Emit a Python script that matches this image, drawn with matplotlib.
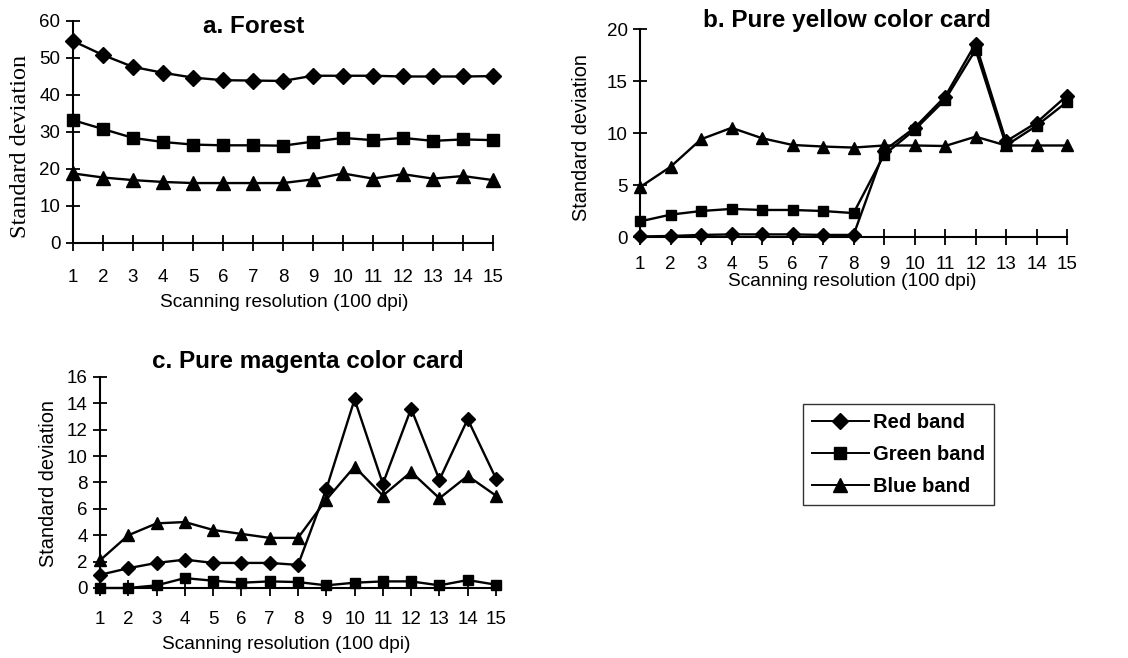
import matplotlib

matplotlib.use("Agg")
import matplotlib.pyplot as plt
from matplotlib.lines import Line2D

plt.rcParams["font.family"] = ["Liberation Sans", "DejaVu Sans"]

res = list(range(1, 16))

forest_red = [54.6, 50.8, 47.6, 46.0, 44.7, 44.0, 43.9, 43.8, 45.2, 45.2, 45.2, 45.0, 45.0, 45.0, 45.1]
forest_green = [33.2, 30.8, 28.4, 27.3, 26.6, 26.4, 26.4, 26.3, 27.4, 28.4, 27.8, 28.4, 27.6, 28.0, 27.8]
forest_blue = [18.8, 17.7, 17.0, 16.5, 16.2, 16.2, 16.2, 16.2, 17.2, 18.8, 17.4, 18.6, 17.4, 18.1, 17.0]

yellow_red = [0.05, 0.1, 0.2, 0.25, 0.25, 0.25, 0.2, 0.2, 8.3, 10.5, 13.5, 18.6, 9.2, 11.0, 13.6]
yellow_green = [1.5, 2.15, 2.5, 2.7, 2.6, 2.6, 2.5, 2.3, 7.9, 10.3, 13.2, 18.0, 8.8, 10.7, 13.0]
yellow_blue = [4.8, 6.75, 9.4, 10.5, 9.5, 8.85, 8.7, 8.6, 8.8, 8.8, 8.75, 9.65, 8.8, 8.8, 8.8]

magenta_red = [1.0, 1.5, 1.9, 2.15, 1.9, 1.9, 1.9, 1.75, 7.5, 14.3, 7.9, 13.6, 8.2, 12.8, 8.3]
magenta_green = [0.0, 0.0, 0.2, 0.75, 0.55, 0.4, 0.5, 0.45, 0.2, 0.4, 0.5, 0.5, 0.2, 0.6, 0.25]
magenta_blue = [2.1, 4.0, 4.9, 5.0, 4.4, 4.1, 3.8, 3.8, 6.7, 9.2, 7.0, 8.8, 6.8, 8.5, 7.0]

band_names = ["Red band", "Green band", "Blue band"]
band_markers = ["D", "s", "^"]


def draw_panel(ax, series, ymax, ystep, title, title_xy, ylab_xy, xlab_xy, xpad, msize, ylab_font):
    for values, marker in zip(series, band_markers):
        ms = msize + 1 if marker == "^" else msize
        ax.plot(res, values, color="black", lw=1.7, marker=marker, ms=ms,
                mfc="black", mec="black", clip_on=False, zorder=3)
    ax.set_xlim(1, 15)
    ax.set_ylim(0, ymax)
    ax.set_xticks(res)
    ax.set_yticks(range(0, ymax + 1, ystep))
    for side in ("top", "right"):
        ax.spines[side].set_visible(False)
    for side in ("left", "bottom"):
        ax.spines[side].set_linewidth(1.5)
    ax.tick_params(axis="x", direction="inout", length=11, width=1.3, pad=xpad - 1, labelsize=13.5)
    ax.tick_params(axis="y", direction="inout", length=10, width=1.3, pad=4, labelsize=13.5)
    ax.text(title_xy[0], title_xy[1], title, transform=ax.transAxes, ha="center", va="center",
            fontsize=17.5, fontweight="bold")
    ax.set_ylabel("Standard deviation", **ylab_font)
    ax.yaxis.set_label_coords(*ylab_xy)
    ax.set_xlabel("Scanning resolution (100 dpi)", fontsize=13.8)
    ax.xaxis.set_label_coords(*xlab_xy)
    ax.xaxis.label.set_va("center")
    ax.yaxis.label.set_va("center")


fig = plt.figure(figsize=(11.28, 6.58), dpi=100)
ax_a = fig.add_axes([0.0647, 0.6307, 0.3723, 0.3374])
ax_b = fig.add_axes([0.5674, 0.6398, 0.3786, 0.3161])
ax_c = fig.add_axes([0.0887, 0.1064, 0.3510, 0.3207])

draw_panel(ax_a, [forest_red, forest_green, forest_blue], 60, 10, "a. Forest",
           (0.43, 0.973), (-0.126, 0.435), (0.504, -0.27), 14, 8.5,
           {"family": ["Liberation Serif"], "fontsize": 17.5})
draw_panel(ax_b, [yellow_red, yellow_green, yellow_blue], 20, 5, "b. Pure yellow color card",
           (0.485, 1.043), (-0.136, 0.478), (0.497, -0.216), 9, 7.5,
           {"fontsize": 14.4})
draw_panel(ax_c, [magenta_red, magenta_green, magenta_blue], 16, 2, "c. Pure magenta color card",
           (0.526, 1.071), (-0.129, 0.495), (0.47, -0.27), 12, 7.5,
           {"fontsize": 14.4})

handles = [Line2D([], [], color="black", lw=1.4, marker=m, ms=(10 if m == "^" else 8.5),
                  mfc="black", mec="black") for m in band_markers]
leg = fig.legend(handles, band_names, loc="upper left", bbox_to_anchor=(0.712, 0.386),
                 borderaxespad=0, frameon=True, fancybox=False, handlelength=2.8,
                 handletextpad=0.2, labelspacing=0.65, borderpad=0.45,
                 prop={"weight": "bold", "size": 14.5})
leg.get_frame().set_edgecolor("black")
leg.get_frame().set_linewidth(1.0)

fig.savefig("out.png", dpi=100)
